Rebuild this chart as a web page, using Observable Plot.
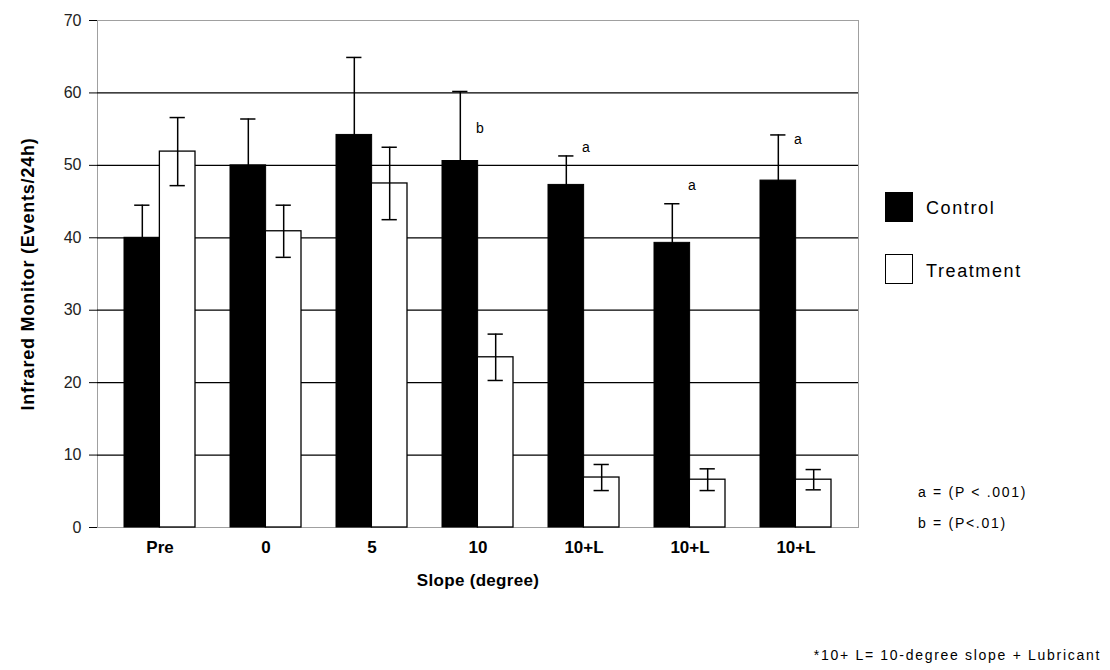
<!DOCTYPE html>
<html>
<head>
<meta charset="utf-8">
<script src="https://cdn.jsdelivr.net/npm/d3@7"></script>
<script src="https://cdn.jsdelivr.net/npm/@observablehq/plot@0.6"></script>
<style>
  html, body { margin: 0; padding: 0; background: #fff; }
  #wrap { position: relative; width: 1110px; height: 670px; font-family: "Liberation Sans", Arial, sans-serif; color: #000; }
  #wrap svg { position: absolute; left: 0; top: 0; }
  g[aria-label="y-axis label"] text { font-weight: bold; font-size: 18px; letter-spacing: 0.8px; }
  g[aria-label="x-axis label"] text { font-weight: bold; font-size: 17px; letter-spacing: 0.3px; }
  g[aria-label="x-axis tick label"] text { font-weight: bold; font-size: 17px; }
  g[aria-label="y-axis tick label"] text { font-size: 16px; fill: #222; }
  .legend-box { position: absolute; width: 28px; height: 30px; box-sizing: border-box; border: 1px solid #000; }
  .legend-text { position: absolute; font-size: 18px; line-height: 20px; letter-spacing: 1.6px; }
  .note { position: absolute; font-size: 14px; line-height: 16px; letter-spacing: 1.7px; white-space: nowrap; }
</style>
</head>
<body>
<div id="wrap"></div>
<script>
// ---- data ----
const groups = ["Pre", "0", "5", "10", "10+L (1)", "10+L (2)", "10+L (3)"];
const tickLabels = ["Pre", "0", "5", "10", "10+L", "10+L", "10+L"];
const controlMean = [40.0, 50.0, 54.2, 50.6, 47.3, 39.3, 47.9];
const controlSE = [4.5, 6.4, 10.7, 9.6, 4.0, 5.4, 6.3];
const treatmentMean = [51.9, 40.9, 47.5, 23.5, 6.9, 6.6, 6.6];
const treatmentSE = [4.7, 3.6, 5.0, 3.2, 1.8, 1.5, 1.4];
const sigLetters = ["", "", "", "b", "a", "a", "a"];
const sigY = [null, null, null, 55.1, 52.5, 47.2, 53.6];
const yTicks = [0, 10, 20, 30, 40, 50, 60, 70];
const gridValues = [10, 20, 30, 40, 50, 60];
const seriesNames = ["Control", "Treatment"];
const yTitle = "Infrared Monitor (Events/24h)";
const xTitle = "Slope (degree)";

// ---- layout ----
const W = 1110, H = 670;
const mL = 97, mR = 252, mT = 20, mB = 143;
const padInner = 0.333, padOuter = 0.254;
const step = (W - mL - mR) / (groups.length - padInner + 2 * padOuter);
const bw = step * (1 - padInner);
const half = bw / 2;
const capW = 15;
const capInset = (bw - capW) / 2;

const rows = groups.map((g, i) => ({
  group: g,
  c: controlMean[i], cse: controlSE[i],
  t: treatmentMean[i], tse: treatmentSE[i],
  sig: sigLetters[i], sigY: sigY[i]
}));
const sigRows = rows.filter(d => d.sig);

const chart = Plot.plot({
  width: W, height: H,
  marginLeft: mL, marginRight: mR, marginTop: mT, marginBottom: mB,
  style: { fontFamily: '"Liberation Sans", Arial, sans-serif', fontSize: "15px", color: "#000", background: "transparent" },
  x: {
    domain: groups, paddingInner: padInner, paddingOuter: padOuter,
    tickFormat: (d) => tickLabels[groups.indexOf(d)],
    tickSize: 0, tickPadding: 13, line: true,
    label: xTitle, labelAnchor: "center", labelOffset: 58
  },
  y: {
    domain: [0, 70], ticks: yTicks, tickSize: 8, tickPadding: 8, line: true,
    label: yTitle, labelAnchor: "center", labelOffset: 76,
    tickFormat: d => String(d)
  },
  marks: [
    Plot.frame({ stroke: "#a0a0a0" }),
    Plot.ruleY(gridValues, { stroke: "#000", strokeWidth: 1.2 }),
    // control bars
    Plot.barY(rows, { x: "group", y: "c", fill: "#000", stroke: "#000", insetRight: half }),
    // treatment bars
    Plot.barY(rows, { x: "group", y: "t", fill: "#fff", stroke: "#000", strokeWidth: 1.3, insetLeft: half }),
    // control error bars
    Plot.ruleX(rows, { x: "group", y1: d => d.c - d.cse, y2: d => d.c + d.cse, dx: -half / 2, stroke: "#000", strokeWidth: 1.5 }),
    Plot.tickY(rows, { x: "group", y: d => d.c + d.cse, dx: -half / 2, insetLeft: capInset, insetRight: capInset, stroke: "#000", strokeWidth: 1.5 }),
    // treatment error bars
    Plot.ruleX(rows, { x: "group", y1: d => d.t - d.tse, y2: d => d.t + d.tse, dx: half / 2, stroke: "#000", strokeWidth: 1.5 }),
    Plot.tickY(rows, { x: "group", y: d => d.t + d.tse, dx: half / 2, insetLeft: capInset, insetRight: capInset, stroke: "#000", strokeWidth: 1.5 }),
    Plot.tickY(rows, { x: "group", y: d => d.t - d.tse, dx: half / 2, insetLeft: capInset, insetRight: capInset, stroke: "#000", strokeWidth: 1.5 }),
    // significance letters
    Plot.text(sigRows, { x: "group", y: "sigY", text: "sig", dx: 2, fontSize: 14, fill: "#000" })
  ]
});

// strip any automatic label arrows
chart.querySelectorAll('g[aria-label="y-axis label"] text').forEach(t => t.textContent = yTitle);
chart.querySelectorAll('g[aria-label="x-axis label"] text').forEach(t => t.textContent = xTitle);

const wrap = document.getElementById("wrap");
wrap.appendChild(chart);

// legend
seriesNames.forEach((name, i) => {
  const box = document.createElement("div");
  box.className = "legend-box";
  box.style.left = "885px";
  box.style.top = (192 + i * 62) + "px";
  box.style.background = i === 0 ? "#000" : "#fff";
  wrap.appendChild(box);
  const t = document.createElement("div");
  t.className = "legend-text";
  t.style.left = "926px";
  t.style.top = (198 + i * 63) + "px";
  t.textContent = name;
  wrap.appendChild(t);
});

// notes
const notes = [
  { text: "a = (P < .001)", left: 918, top: 484 },
  { text: "b = (P<.01)", left: 918, top: 515 }
];
notes.forEach(n => {
  const d = document.createElement("div");
  d.className = "note";
  d.style.left = n.left + "px";
  d.style.top = n.top + "px";
  d.textContent = n.text;
  wrap.appendChild(d);
});
const foot = document.createElement("div");
foot.className = "note";
foot.style.right = "9px";
foot.style.top = "647px";
foot.textContent = "*10+ L= 10-degree slope + Lubricant";
wrap.appendChild(foot);
</script>
</body>
</html>
